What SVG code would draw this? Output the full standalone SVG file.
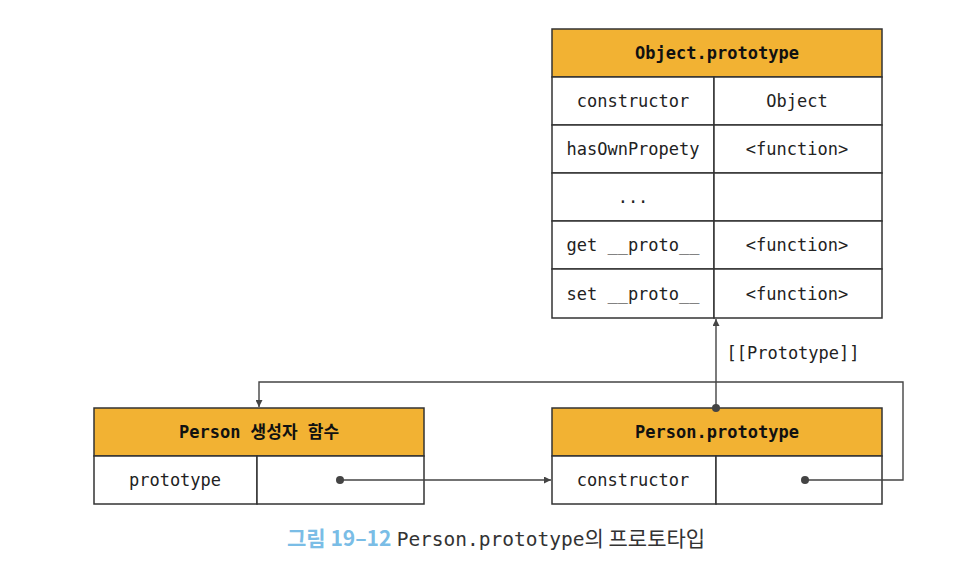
<svg xmlns="http://www.w3.org/2000/svg" width="972" height="576" viewBox="0 0 972 576">
<style>
.hdr{fill:#f2b233;stroke:#333;stroke-width:1.5}
.cell{fill:#fff;stroke:#333;stroke-width:1.5}
.t{font-family:"DejaVu Sans Mono","Liberation Mono","Noto Sans CJK KR",monospace;font-size:17px;fill:#222;text-anchor:middle;dominant-baseline:central}
.b{font-weight:bold;fill:#111}
.ln{fill:none;stroke:#444;stroke-width:1.4}
</style>
<defs>
<marker id="ah" viewBox="0 0 10 10" refX="10" refY="5" markerWidth="7" markerHeight="7" orient="auto" markerUnits="userSpaceOnUse">
<path d="M0,0 L10,5 L0,10 z" fill="#444"/>
</marker>
</defs>
<rect width="972" height="576" fill="#fff"/>
<g id="object-prototype">
<rect class="hdr" x="552" y="29" width="330" height="48"/>
<text class="t b" x="717" y="53">Object.prototype</text>
<rect class="cell" x="552" y="77" width="162" height="48"/>
<rect class="cell" x="714" y="77" width="168" height="48"/>
<rect class="cell" x="552" y="125" width="162" height="48"/>
<rect class="cell" x="714" y="125" width="168" height="48"/>
<rect class="cell" x="552" y="173" width="162" height="48"/>
<rect class="cell" x="714" y="173" width="168" height="48"/>
<rect class="cell" x="552" y="221" width="162" height="48"/>
<rect class="cell" x="714" y="221" width="168" height="48"/>
<rect class="cell" x="552" y="269" width="162" height="49"/>
<rect class="cell" x="714" y="269" width="168" height="49"/>
<text class="t" x="633" y="101">constructor</text>
<text class="t" x="797" y="101">Object</text>
<text class="t" x="633" y="149">hasOwnPropety</text>
<text class="t" x="797" y="149">&lt;function&gt;</text>
<text class="t" x="633" y="197">...</text>
<text class="t" x="633" y="245">get __proto__</text>
<text class="t" x="797" y="245">&lt;function&gt;</text>
<text class="t" x="633" y="294">set __proto__</text>
<text class="t" x="797" y="294">&lt;function&gt;</text>
</g>
<g id="person-constructor">
<rect class="hdr" x="94" y="408" width="330" height="48"/>
<text class="t b" x="259" y="432">Person 생성자 함수</text>
<rect class="cell" x="94" y="456" width="163" height="48"/>
<rect class="cell" x="257" y="456" width="167" height="48"/>
<text class="t" x="175" y="480">prototype</text>
</g>
<g id="person-prototype">
<rect class="hdr" x="552" y="408" width="330" height="48"/>
<text class="t b" x="717" y="432">Person.prototype</text>
<rect class="cell" x="552" y="456" width="164" height="48"/>
<rect class="cell" x="716" y="456" width="166" height="48"/>
<text class="t" x="633" y="480">constructor</text>
</g>
<g id="connectors">
<line class="ln" x1="716" y1="408" x2="716" y2="319" marker-end="url(#ah)"/>
<circle cx="716" cy="408" r="4" fill="#444"/>
<text class="t" x="793" y="353">[[Prototype]]</text>
<polyline class="ln" points="805,480 903,480 903,382 259,382 259,407" marker-end="url(#ah)"/>
<circle cx="805" cy="480" r="4" fill="#444"/>
<line class="ln" x1="340" y1="480" x2="551" y2="480" marker-end="url(#ah)"/>
<circle cx="340" cy="480" r="4" fill="#444"/>
</g>
<text x="287" y="546" style="font-size:21px;fill:#333"><tspan style="font-family:'Noto Sans CJK KR','Noto Sans',sans-serif;font-weight:bold;fill:#7abde6">그림 19–12</tspan> <tspan style="font-family:'DejaVu Sans Mono','Liberation Mono',monospace;font-size:19.5px">Person.prototype</tspan><tspan style="font-family:'Noto Sans CJK KR','Noto Sans',sans-serif">의 프로토타입</tspan></text>
</svg>
